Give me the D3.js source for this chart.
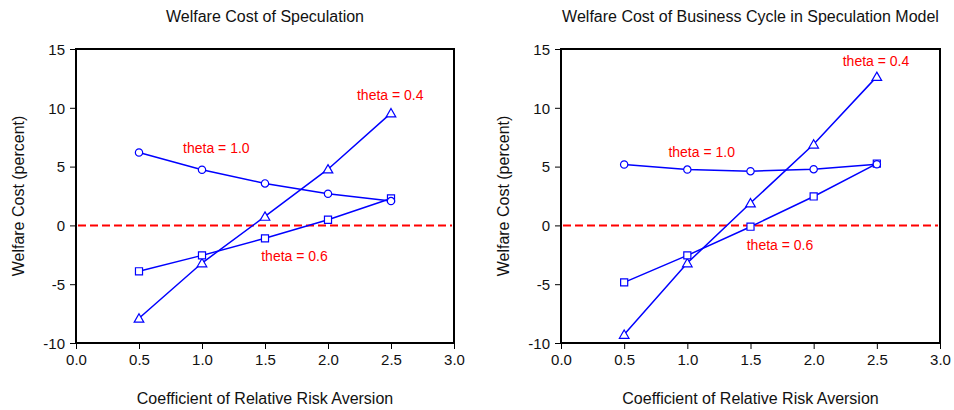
<!DOCTYPE html>
<html><head><meta charset="utf-8">
<script src="https://cdn.jsdelivr.net/npm/d3@7"></script>
<style>
body{margin:0;background:#fff;}
text{font-family:"Liberation Sans",Arial,sans-serif;}
</style></head>
<body><svg id="c" width="954" height="410"></svg>
<script>
const rra = [0.5, 1.0, 1.5, 2.0, 2.5];
const xTicks = [0.0, 0.5, 1.0, 1.5, 2.0, 2.5, 3.0];
const yTicks = [-10, -5, 0, 5, 10, 15];

// Panel 1: Welfare Cost of Speculation
const left04 = [-7.9, -3.2, 0.76, 4.78, 9.55];
const left06 = [-3.9, -2.55, -1.1, 0.48, 2.29];
const left10 = [6.2, 4.73, 3.57, 2.69, 2.07];
// Panel 2: Welfare Cost of Business Cycle in Speculation Model
const right04 = [-9.28, -3.2, 1.9, 6.9, 12.65];
const right06 = [-4.84, -2.55, -0.11, 2.46, 5.26];
const right10 = [5.18, 4.75, 4.61, 4.78, 5.2];

const titles = ["Welfare Cost of Speculation", "Welfare Cost of Business Cycle in Speculation Model"];
const xLabel = "Coefficient of Relative Risk Aversion";
const yLabel = "Welfare Cost (percent)";
const seriesNames = ["theta = 0.4", "theta = 0.6", "theta = 1.0"];
const markers = ["triangle", "square", "circle"];
// label anchor positions (data coords: x start, y middle)
const leftLabelPos = [[2.23, 11.1], [1.47, -2.6], [0.85, 6.6]];
const rightLabelPos = [[2.23, 14.0], [1.47, -1.7], [0.85, 6.2]];

const panels = [
  {x0: 76, x1: 454, title: titles[0], series: [left04, left06, left10], labels: leftLabelPos},
  {x0: 561, x1: 940, title: titles[1], series: [right04, right06, right10], labels: rightLabelPos}
];
const yTop = 49, yBot = 343;
const svg = d3.select("#c");
const blue = "#0000ff", red = "#ff0000";
const FF = '"Liberation Sans",Arial,sans-serif';

panels.forEach(p => {
  const g = svg.append("g");
  const x = d3.scaleLinear().domain([0, 3]).range([p.x0, p.x1]);
  const y = d3.scaleLinear().domain([-10, 15]).range([yBot, yTop]);

  // axes
  const xa = g.append("g").attr("transform", `translate(0,${yBot})`)
    .call(d3.axisBottom(x).tickValues(xTicks).tickFormat(d3.format(".1f")).tickSize(6).tickSizeOuter(0));
  const ya = g.append("g").attr("transform", `translate(${p.x0},0)`)
    .call(d3.axisLeft(y).tickValues(yTicks).tickFormat(d => d < 0 ? "-" + Math.abs(d) : d).tickSize(6).tickSizeOuter(0));
  [xa, ya].forEach(a => {
    a.select(".domain").remove();
    a.selectAll("line").attr("stroke", "#000").attr("stroke-width", 1);
    a.selectAll("text").attr("font-size", 15).attr("fill", "#111").attr("font-family", FF);
  });
  xa.selectAll("text").attr("y", 17).attr("dy", "0.35em");
  ya.selectAll("text").attr("x", -11).attr("dy", "0.35em");

  // frame
  g.append("rect").attr("x", p.x0).attr("y", yTop).attr("width", p.x1 - p.x0).attr("height", yBot - yTop)
    .attr("fill", "none").attr("stroke", "#000").attr("stroke-width", 2);

  // zero line
  g.append("line").attr("x1", x(0) + 2).attr("x2", x(3) - 2).attr("y1", y(0)).attr("y2", y(0))
    .attr("stroke", red).attr("stroke-width", 2).attr("stroke-dasharray", "8,4");

  // series
  const line = d3.line().x((d, i) => x(rra[i])).y(d => y(d));
  p.series.forEach((s, si) => {
    g.append("path").datum(s).attr("d", line).attr("fill", "none")
      .attr("stroke", blue).attr("stroke-width", 1.5);
  });
  p.series.forEach((s, si) => {
    const type = markers[si];
    const sym = type === "triangle" ? d3.symbolTriangle : type === "square" ? d3.symbolSquare : d3.symbolCircle;
    const size = type === "triangle" ? 40 : type === "square" ? 50 : 42;
    g.selectAll(null).data(s).join("path")
      .attr("d", d3.symbol(sym, size))
      .attr("transform", (d, i) => `translate(${x(rra[i])},${y(d) + (type === "triangle" ? 1 : 0)})`)
      .attr("fill", "#fff").attr("stroke", blue).attr("stroke-width", 1.2);
  });

  // labels
  p.labels.forEach((lp, i) => {
    g.append("text").attr("x", x(lp[0])).attr("y", y(lp[1])).attr("dy", "0.35em")
      .attr("font-size", 14).attr("fill", red).text(seriesNames[i]);
  });

  // titles
  g.append("text").attr("x", (p.x0 + p.x1) / 2).attr("y", 16).attr("dy", "0.35em").attr("text-anchor", "middle")
    .attr("font-size", 16).attr("fill", "#111").text(p.title);
  g.append("text").attr("x", (p.x0 + p.x1) / 2).attr("y", 398).attr("dy", "0.35em").attr("text-anchor", "middle")
    .attr("font-size", 16).attr("fill", "#111").text(xLabel);
  g.append("text").attr("transform", `translate(${p.x0 - 58},${(yTop + yBot) / 2}) rotate(-90)`)
    .attr("dy", "0.35em").attr("text-anchor", "middle").attr("font-size", 16).attr("fill", "#111").text(yLabel);
});
</script></body></html>
